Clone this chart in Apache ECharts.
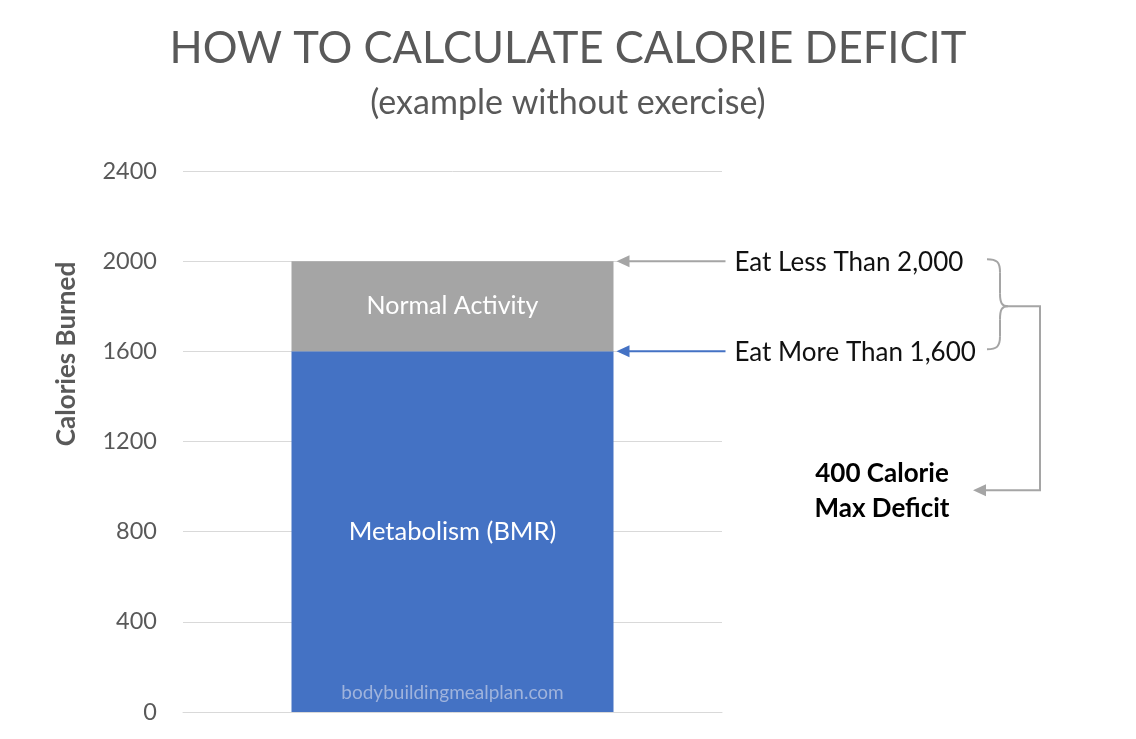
<!DOCTYPE html>
<html>
<head>
<meta charset="utf-8">
<script src="https://cdn.jsdelivr.net/npm/echarts@6/dist/echarts.min.js"></script>
<style>html,body{margin:0;padding:0;background:#fff}#c{width:1136px;height:739px}</style>
</head>
<body>
<div id="c"></div>
<script>
const categories = ['Calories'];
const bmrValues = [1600];
const activityValues = [400];
const seriesNames = ['Metabolism (BMR)', 'Normal Activity'];
const yTicks = [0, 400, 800, 1200, 1600, 2000, 2400];
const eatLessValue = 2000;
const eatMoreValue = 1600;

const FONT = 'Lato, "Open Sans", sans-serif';
const BAR_W = 322;
const chart = echarts.init(document.getElementById('c'));
chart.setOption({
  animation: false,
  title: [
    {text: 'HOW TO CALCULATE CALORIE DEFICIT', left: 'center', top: 22,
     textStyle: {fontFamily: FONT, fontWeight: 'normal', fontSize: 43.5, color: '#595959'}},
    {text: '(example without exercise)', left: 'center', top: 81,
     textStyle: {fontFamily: FONT, fontWeight: 'normal', fontSize: 34, color: '#595959'}}
  ],
  grid: {left: 183, right: 414, top: 171, bottom: 27},
  xAxis: {type: 'category', data: categories, axisLine: {show: true, lineStyle: {color: '#d9d9d9'}},
          axisTick: {show: false}, axisLabel: {show: false}},
  yAxis: {type: 'value', min: yTicks[0], max: yTicks[yTicks.length - 1], interval: 400,
          axisLine: {show: false}, axisTick: {show: false},
          splitLine: {lineStyle: {color: '#d9d9d9', width: 1}},
          axisLabel: {fontFamily: FONT, fontSize: 23.5, color: '#595959', margin: 26, formatter: v => String(v)}},
  series: [
    {name: seriesNames[0], type: 'bar', stack: 's', data: bmrValues, barWidth: BAR_W,
     itemStyle: {color: '#4472C4'},
     label: {show: true, position: 'inside', formatter: seriesNames[0], color: '#fff', fontFamily: FONT, fontSize: 25.5}},
    {name: seriesNames[1], type: 'bar', stack: 's', data: activityValues, barWidth: BAR_W,
     itemStyle: {color: '#A5A5A5'},
     label: {show: true, position: 'inside', formatter: seriesNames[1], color: '#fff', fontFamily: FONT, fontSize: 25}}
  ]
});

function drawAnnotations() {
  const yLess = chart.convertToPixel({yAxisIndex: 0}, eatLessValue);
  const yMore = chart.convertToPixel({yAxisIndex: 0}, eatMoreValue);
  const y0 = chart.convertToPixel({yAxisIndex: 0}, 0);
  const cx = chart.convertToPixel({xAxisIndex: 0}, categories[0]);
  const barRight = cx + BAR_W / 2;
  const ax0 = barRight + 3, ax1 = barRight + 112;
  const textX = ax1 + 9;
  const yMid = (yLess + yMore) / 2;
  const yDef = yMid + 184;
  const G = '#A5A5A5';
  const g = [];
  function seg(x1, y1, x2, y2, color) {
    g.push({type: 'line', shape: {x1: x1, y1: y1, x2: x2, y2: y2}, style: {stroke: color, lineWidth: 2}});
  }
  function head(x, y, color) {
    g.push({type: 'polygon', shape: {points: [[x, y], [x + 13, y - 6], [x + 13, y + 6]]}, style: {fill: color}});
  }
  seg(ax1, yLess, ax0 + 8, yLess, G); head(ax0, yLess, G);
  seg(ax1, yMore, ax0 + 8, yMore, '#4472C4'); head(ax0, yMore, '#4472C4');
  g.push({type: 'text', x: textX, y: yLess + 1, style: {text: 'Eat Less Than 2,000', fontFamily: FONT, fontSize: 26, fill: '#111', verticalAlign: 'middle'}});
  g.push({type: 'text', x: textX, y: yMore + 1, style: {text: 'Eat More Than 1,600', fontFamily: FONT, fontSize: 26, fill: '#111', verticalAlign: 'middle'}});
  // curly brace
  const bx = 1000, top = yLess - 2, bot = yMore - 2;
  function curve(x1, y1, cx1, cy1, cx2, cy2, x2, y2) {
    g.push({type: 'bezierCurve', shape: {x1: x1, y1: y1, cpx1: cx1, cpy1: cy1, cpx2: cx2, cpy2: cy2, x2: x2, y2: y2},
            style: {stroke: G, lineWidth: 2, fill: null}});
  }
  curve(bx - 13, top, bx - 3, top, bx, top + 3, bx, top + 13);
  seg(bx, top + 13, bx, yMid - 13, G);
  curve(bx, yMid - 13, bx, yMid - 3, bx + 2, yMid, bx + 8, yMid);
  curve(bx + 8, yMid, bx + 2, yMid, bx, yMid + 3, bx, yMid + 13);
  seg(bx, yMid + 13, bx, bot - 13, G);
  curve(bx, bot - 13, bx, bot - 3, bx - 3, bot, bx - 13, bot);
  g.push({type: 'polyline', shape: {points: [[bx + 8, yMid], [1040, yMid], [1040, yDef], [984, yDef]]},
          style: {stroke: G, lineWidth: 2, fill: null}});
  head(973, yDef, G);
  g.push({type: 'text', x: 882, y: yDef - 17, style: {text: '400 Calorie', fontFamily: FONT, fontSize: 26, fontWeight: 'bold', fill: '#000', align: 'center', verticalAlign: 'middle'}});
  g.push({type: 'text', x: 882, y: yDef + 18, style: {text: 'Max Deficit', fontFamily: FONT, fontSize: 26, fontWeight: 'bold', fill: '#000', align: 'center', verticalAlign: 'middle'}});
  // y axis name
  g.push({type: 'text', x: 67, y: 354, rotation: Math.PI / 2,
          style: {text: 'Calories Burned', fontFamily: FONT, fontSize: 26, fontWeight: 'bold', fill: '#595959', align: 'center', verticalAlign: 'middle'}});
  // watermark
  g.push({type: 'text', x: cx, y: y0 - 19, z: 100, style: {text: 'bodybuildingmealplan.com', fontFamily: 'Lato, sans-serif', fontSize: 19, fill: '#9fb3dc', align: 'center', verticalAlign: 'middle'}});
  chart.setOption({graphic: g});
}
drawAnnotations();
</script>
</body>
</html>
